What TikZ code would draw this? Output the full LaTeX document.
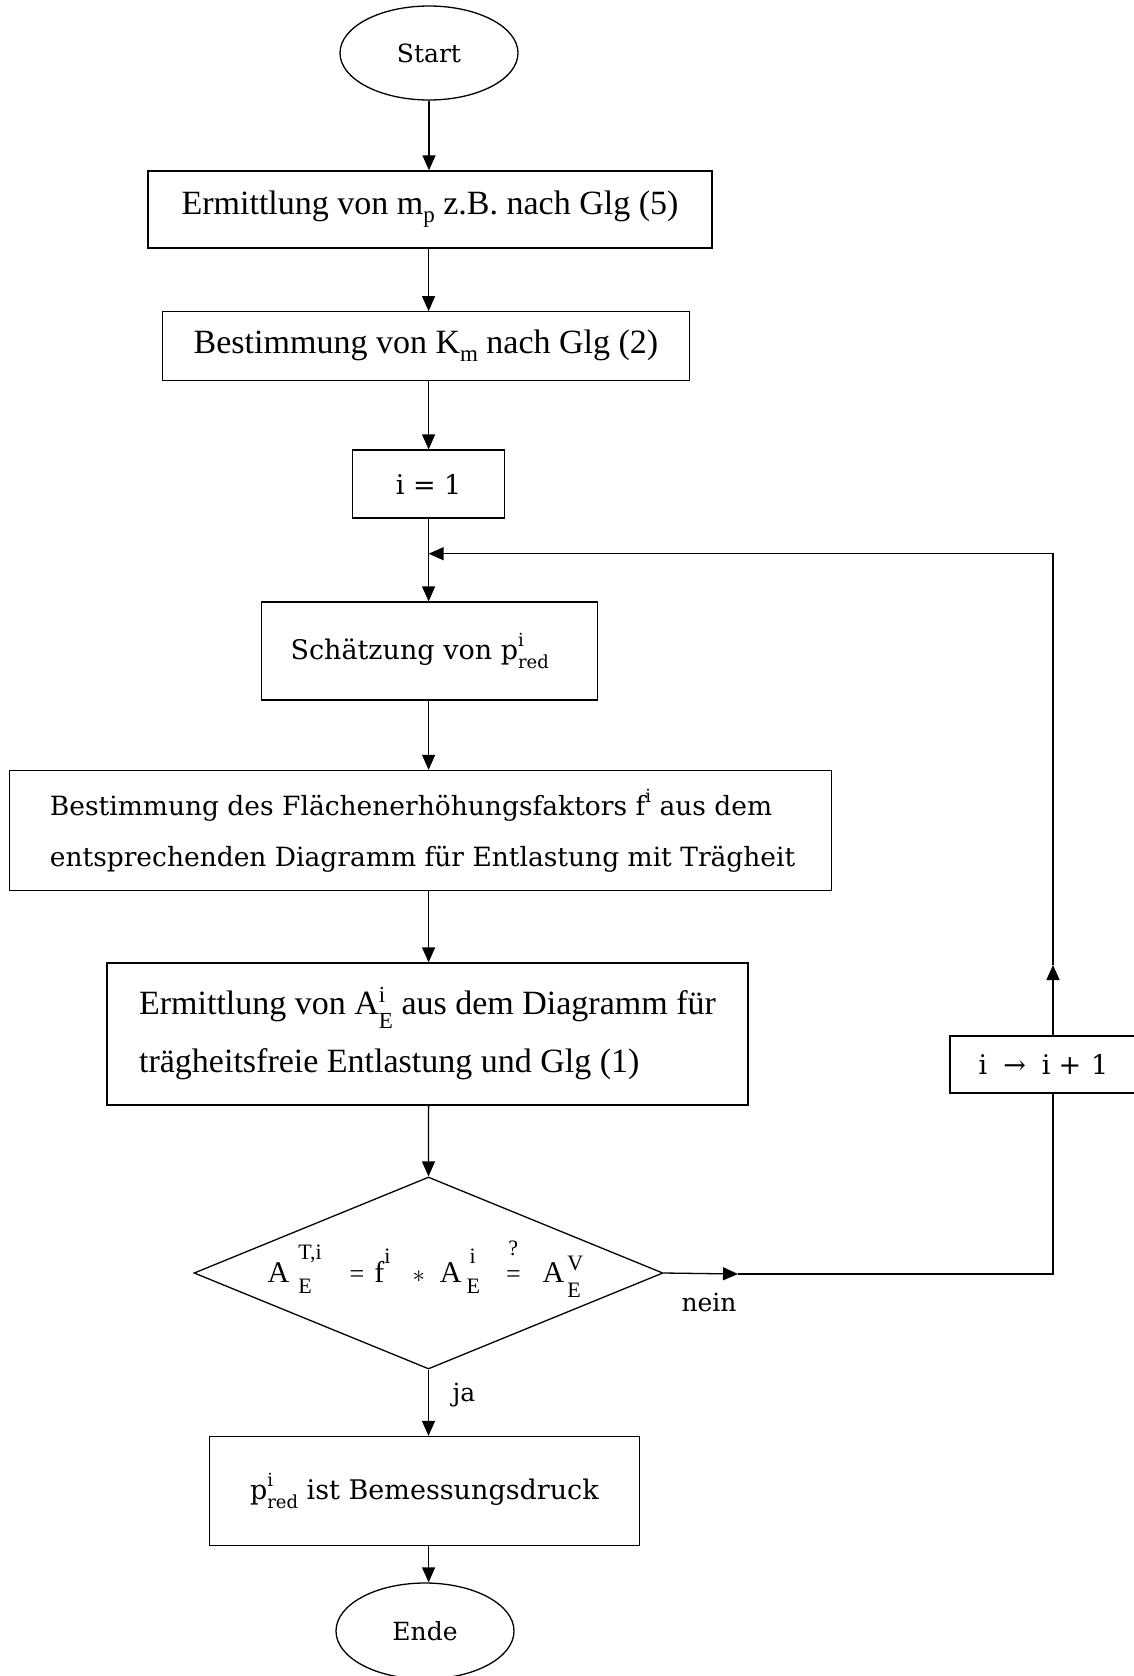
\documentclass[tikz,border=0pt]{standalone}
\usepackage{fontspec}
\setmainfont{Liberation Serif}
\newfontfamily\tms{Liberation Serif}
\newfontfamily\cent{DejaVu Serif}
\usetikzlibrary{shapes.geometric,arrows.meta}

\newcommand\TM{\tms\fontsize{34}{51}\selectfont}
\newcommand\TMb{\tms\fontsize{34}{58}\selectfont}
\newcommand\TMs{\tms\fontsize{23}{23}\selectfont}
\newcommand\TMd{\tms\fontsize{30}{30}\selectfont}
\newcommand\TMds{\tms\fontsize{22}{22}\selectfont}
\newcommand\TMeq{\tms\fontsize{26}{26}\selectfont}
\newcommand\CS{\cent\fontsize{27}{51}\selectfont}
\newcommand\CSm{\cent\fontsize{26.5}{51}\selectfont}
\newcommand\CSl{\cent\fontsize{25}{30}\selectfont}
\newcommand\CSs{\cent\fontsize{18}{18}\selectfont}

\newsavebox\bsup
\newsavebox\bsub
\newlength\mw
\newcommand\SupSub[5]{#1\sbox\bsup{#2}\sbox\bsub{#3}%
  \setlength\mw{\wd\bsup}\ifdim\wd\bsub>\mw\setlength\mw{\wd\bsub}\fi
  \rlap{\raisebox{#4}{\usebox\bsup}}\rlap{\raisebox{-#5}{\usebox\bsub}}\hspace{\mw}}
\newcommand\qeq{\ooalign{\hfil\raisebox{27pt}{\TMds ?}\hfil\cr\TMeq =\cr}}

\begin{document}
\begin{tikzpicture}[x=1pt,y=-1pt,line width=1.3pt,
  box/.style={draw,rectangle,inner sep=0pt},
  ell/.style={draw,ellipse,inner sep=0pt},
  arr/.style={-{Triangle[length=15pt,width=13pt]}}]
\useasboundingbox (0,0) rectangle (1133,1676);

\node[ell,minimum width=178pt,minimum height=94pt,font=\CSl] (start) at (429,53) {Start};
\node[box,minimum width=564pt,minimum height=77pt,font=\TM] (b1) at (430,209.5)
  {Ermittlung von m\raisebox{-8pt}{\TMs p} z.B. nach Glg (5)};
\node[box,minimum width=527pt,minimum height=68.5pt,font=\TM] (b2) at (426,346)
  {Bestimmung von K\raisebox{-8pt}{\TMs m} nach Glg (2)};
\node[box,minimum width=152pt,minimum height=68pt,font=\CS] (b3) at (428.6,484) {i = 1};
\coordinate (j) at (428.6,553.7);
\node[box,minimum width=336pt,minimum height=98pt,font=\CS] (b4) at (429.7,651)
  {Schätzung von \SupSub{p}{\CSs i}{\CSs red}{13pt}{9pt}\kern20pt};
\node[box,minimum width=822pt,minimum height=120pt,align=left,font=\CSm] (b5) at (420.6,830.5)
  {\kern4pt Bestimmung des Flächenerhöhungsfaktors f\raisebox{13pt}{\CSs i} aus dem\\
   \kern4pt entsprechenden Diagramm für Entlastung mit Trägheit};
\node[box,minimum width=641pt,minimum height=142pt,align=left,font=\TMb] (b6) at (427.5,1034)
  {Ermittlung von \SupSub{A}{\TMs i}{\TMs E}{12pt}{14pt} aus dem Diagramm für\\
   trägheitsfreie Entlastung und Glg (1)};
\node[draw,diamond,minimum width=469pt,minimum height=192pt,inner sep=0pt] (d) at (428.5,1273) {};
\node[font=\TMd,inner sep=0pt,anchor=base west] (dt) at (267,1282)
  {\SupSub{A\kern9pt}{\TMds T,i}{\TMds E}{23pt}{11pt}\kern28pt{\TMeq =}\kern10pt
   f\raisebox{19pt}{\TMds i}\kern22pt$*$\kern15pt
   \SupSub{A\kern5pt}{\TMds\kern3pt i}{\TMds E}{19pt}{11pt}\kern26pt\qeq\kern22pt
   \SupSub{A\kern3pt}{\TMds V}{\TMds E}{12pt}{15pt}};
\node[box,minimum width=195pt,minimum height=57pt,font=\CS] (lp) at (1047.5,1064.5)
  {\kern-8pt i\kern16pt →\kern16pt i\kern8pt +\kern10pt 1};
\node[box,minimum width=430pt,minimum height=109pt,font=\CS] (b7) at (424.4,1491)
  {\SupSub{p}{\CSs i}{\CSs red}{13pt}{9pt} ist Bemessungsdruck};
\node[ell,minimum width=178pt,minimum height=96pt,font=\CSl] (ende) at (425,1631) {Ende};
\node[font=\CSl] (nein) at (709,1302) {nein};
\node[font=\CSl] (ja) at (464,1395) {ja};

\coordinate (m1) at (738,1274);
\coordinate (r1) at (1053,1274);
\coordinate (m2) at (1053,965);
\coordinate (r2) at (1053,553.7);

\draw[arr] (start.south) -- (start.south |- b1.north);
\draw[arr] (b1.south -| j) -- (b2.north -| j);
\draw[arr] (b2.south -| j) -- (b3.north -| j);
\draw[arr] (b3.south) -- (b4.north -| j);
\draw[arr] (b4.south -| j) -- (b5.north -| j);
\draw[arr] (b5.south -| j) -- (b6.north -| j);
\draw[arr] (b6.south -| j) -- (d.north);
\draw[arr] (d.south) -- (d.south |- b7.north);
\draw[arr] (b7.south -| j) -- (ende.north -| j);
\draw[arr] (d.east) -- (m1);
\draw (m1) -- (r1) -- (lp.south -| r1);
\draw[arr] (lp.north -| r1) -- (m2);
\draw[arr] (m2) -- (r2) -- (j);
\end{tikzpicture}
\end{document}
